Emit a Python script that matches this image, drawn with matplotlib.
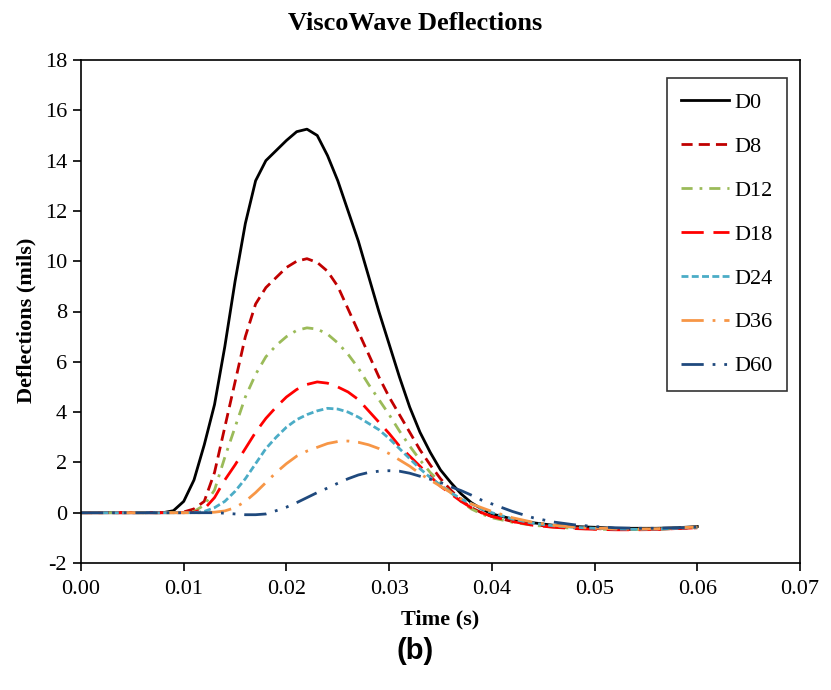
import numpy as np
import matplotlib
matplotlib.use("Agg")
import matplotlib.pyplot as plt

    ## data (time in s, deflections in mils) ##

time_s = [0.000, 0.001, 0.002, 0.003, 0.004, 0.005, 0.006, 0.007, 0.008, 0.009,
          0.010, 0.011, 0.012, 0.013, 0.014, 0.015, 0.016, 0.017, 0.018, 0.019,
          0.020, 0.021, 0.022, 0.023, 0.024, 0.025, 0.026, 0.027, 0.028, 0.029,
          0.030, 0.031, 0.032, 0.033, 0.034, 0.035, 0.036, 0.037, 0.038, 0.039,
          0.040, 0.042, 0.044, 0.046, 0.048, 0.050, 0.052, 0.054, 0.056, 0.058,
          0.060]

d0 = [0, 0, 0, 0, 0, 0, 0, 0, 0, 0.08,
      0.45, 1.3, 2.7, 4.3, 6.6, 9.2, 11.5, 13.2, 14.0, 14.4,
      14.8, 15.15, 15.25, 15.0, 14.2, 13.2, 12.0, 10.8, 9.4, 8.0,
      6.7, 5.4, 4.2, 3.2, 2.4, 1.7, 1.2, 0.75, 0.4, 0.15,
      -0.05, -0.25, -0.4, -0.5, -0.55, -0.58, -0.62, -0.62, -0.62, -0.6,
      -0.55]
d8 = [0, 0, 0, 0, 0, 0, 0, 0, 0, 0,
      0.03, 0.15, 0.45, 1.6, 3.4, 5.2, 7.0, 8.3, 8.95, 9.35,
      9.75, 10.0, 10.1, 9.95, 9.6, 9.0, 8.1, 7.2, 6.3, 5.4,
      4.6, 3.9, 3.2, 2.5, 1.9, 1.35, 0.9, 0.5, 0.2, 0.0,
      -0.15, -0.35, -0.48, -0.55, -0.6, -0.63, -0.66, -0.67, -0.66, -0.63,
      -0.6]
d12 = [0, 0, 0, 0, 0, 0, 0, 0, 0, 0,
       0, 0.05, 0.3, 0.9, 2.2, 3.4, 4.6, 5.5, 6.2, 6.65,
       7.0, 7.25, 7.35, 7.3, 7.1, 6.75, 6.3, 5.75, 5.1, 4.5,
       3.9, 3.25, 2.65, 2.1, 1.6, 1.2, 0.8, 0.45, 0.15, -0.05,
       -0.2, -0.38, -0.5, -0.57, -0.62, -0.65, -0.67, -0.67, -0.66, -0.62,
       -0.58]
d18 = [0, 0, 0, 0, 0, 0, 0, 0, 0, 0,
       0, 0.02, 0.15, 0.6, 1.3, 1.9, 2.55, 3.2, 3.75, 4.2,
       4.6, 4.9, 5.1, 5.2, 5.15, 5.0, 4.8, 4.5, 4.05, 3.6,
       3.15, 2.65, 2.25, 1.85, 1.45, 1.05, 0.75, 0.45, 0.2, 0.0,
       -0.15, -0.35, -0.5, -0.58, -0.63, -0.66, -0.68, -0.68, -0.67, -0.63,
       -0.6]
d24 = [0, 0, 0, 0, 0, 0, 0, 0, 0, 0,
       0, 0, 0.05, 0.2, 0.45, 0.85, 1.35, 1.95, 2.55, 3.0,
       3.4, 3.7, 3.9, 4.05, 4.15, 4.12, 4.0, 3.8, 3.55, 3.3,
       2.95, 2.55, 2.15, 1.75, 1.4, 1.1, 0.8, 0.55, 0.35, 0.15,
       0.0, -0.25, -0.42, -0.52, -0.58, -0.62, -0.65, -0.66, -0.65, -0.62,
       -0.58]
d36 = [0, 0, 0, 0, 0, 0, 0, 0, 0, 0,
       0, 0, 0, 0.02, 0.07, 0.2, 0.45, 0.8, 1.2, 1.6,
       1.95, 2.25, 2.45, 2.6, 2.75, 2.83, 2.85, 2.8, 2.7, 2.55,
       2.35, 2.1, 1.85, 1.55, 1.3, 1.05, 0.8, 0.55, 0.35, 0.2,
       0.05, -0.2, -0.38, -0.5, -0.57, -0.61, -0.64, -0.65, -0.64, -0.6,
       -0.57]
d60 = [0, 0, 0, 0, 0, 0, 0, 0, 0, 0,
       0, 0, 0, 0, -0.02, -0.05, -0.08, -0.08, -0.05, 0.08,
       0.22, 0.4, 0.6, 0.8, 0.98, 1.17, 1.35, 1.5, 1.6, 1.65,
       1.67, 1.65, 1.57, 1.45, 1.33, 1.2, 1.03, 0.88, 0.7, 0.5,
       0.35, 0.05, -0.2, -0.37, -0.48, -0.55, -0.6, -0.62, -0.62, -0.6,
       -0.57]

labels = ["D0", "D8", "D12", "D18", "D24", "D36", "D60"]
colors = ["#000000", "#C00000", "#9BBB59", "#FF0000", "#4BACC6", "#F79646", "#1F497D"]
# dash patterns in units of line width (excel-like styles)
dashes = [None, (4, 2.2), (4, 2.5, 1, 2.5), (8, 3.5), (2.5, 1.2),
          (8, 3.2, 1, 3.2), (8, 3.2, 1, 3.2, 1, 3.2)]

    ## plotting ##

plt.rcParams['font.family'] = ['Liberation Serif', 'DejaVu Serif']
plt.rcParams['axes.unicode_minus'] = False
fig = plt.figure(figsize=(8.31, 6.90), dpi=100)
ax = fig.add_axes([81 / 831, 1 - 563 / 690, 719 / 831, 503 / 690])

series = [d0, d8, d12, d18, d24, d36, d60]
for vals, lab, col, ds in zip(series, labels, colors, dashes):
    line, = ax.plot(time_s, vals, color=col, lw=2.0, label=lab)
    if ds is not None:
        line.set_dashes(ds)

ax.set_xlim(0, 0.07)
ax.set_ylim(-2, 18)
xt = np.arange(0, 0.0701, 0.01)
ax.set_xticks(xt)
ax.set_xticklabels([f"{v:.2f}" for v in xt])
ax.set_yticks(range(-2, 19, 2))
ax.tick_params(axis='both', direction='out', length=6, width=1.2, labelsize=16, pad=4)
ax.tick_params(axis='x', pad=6)
for sp in ax.spines.values():
    sp.set_linewidth(1.2)

ax.set_xlabel("Time (s)", fontsize=16, fontweight='bold', labelpad=8)
fig.text(0.032, 1 - 320 / 690, "Deflections (mils)", rotation=90, fontsize=16,
         fontweight='bold', ha='center', va='center')
fig.text(0.5, 1 - 23 / 690, "ViscoWave Deflections", fontsize=19, fontweight='bold',
         ha='center', va='center')
fig.text(0.5, 1 - 651 / 690, "(b)", fontsize=21, fontweight='bold', ha='center', va='center',
         family=['Liberation Sans', 'DejaVu Sans'])

leg = ax.legend(loc='upper right', bbox_to_anchor=(787 / 831, 1 - 78 / 690),
                bbox_transform=fig.transFigure, fontsize=16, frameon=True, fancybox=False,
                edgecolor='black', handlelength=2.15, handletextpad=0.25, labelspacing=1.05,
                borderpad=0.65, borderaxespad=0)
leg.get_frame().set_linewidth(1.2)

fig.savefig("out.png", dpi=100)
